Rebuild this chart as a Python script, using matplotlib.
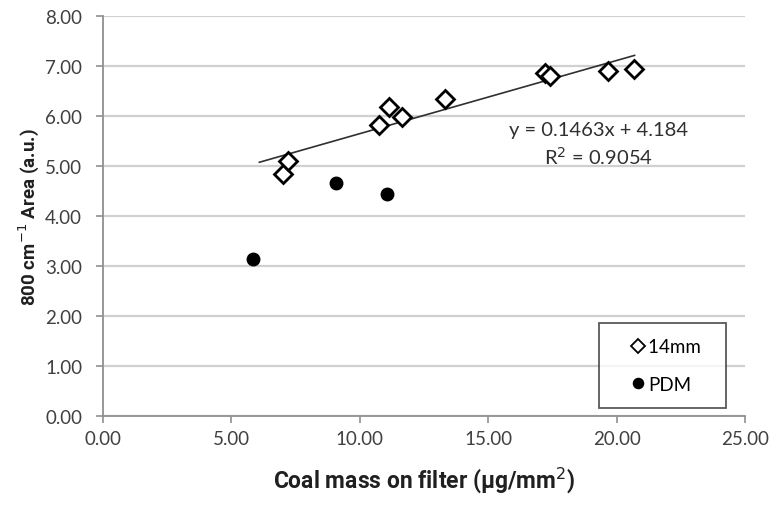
import numpy as np
import matplotlib.pyplot as plt

# datos
masa_14mm = [7.02, 7.19, 10.76, 11.12, 11.66, 13.32, 17.21, 17.41, 19.68, 20.68]
area_14mm = [4.84, 5.09, 5.82, 6.17, 5.97, 6.35, 6.87, 6.81, 6.91, 6.94]
masa_pdm = [5.85, 9.07, 11.07]
area_pdm = [3.14, 4.66, 4.44]
pendiente = 0.1463
intercepto = 4.184
r2 = 0.9054
rango_tendencia = [6.09, 20.7]
xticks = [0, 5, 10, 15, 20, 25]
yticks = [0, 1, 2, 3, 4, 5, 6, 7, 8]

plt.rcParams['font.family'] = ['Lato', 'DejaVu Sans']

fig = plt.figure(figsize=(7.78, 5.06), dpi=100)
ax = fig.add_axes([0.1324, 0.1759, 0.8252, 0.7905])

ax.set_xlim(0, 25)
ax.set_ylim(0, 8)
ax.set_xticks(xticks)
ax.set_yticks(yticks)
ax.set_xticklabels(['%.2f' % v for v in xticks], fontsize=13.5, color='#404040')
ax.set_yticklabels(['%.2f' % v for v in yticks], fontsize=13.5, color='#404040')
ax.grid(axis='y', color='#d0d0d0', linewidth=1.6)
ax.set_axisbelow(True)
for s in ['top', 'right']:
    ax.spines[s].set_visible(False)
for s in ['left', 'bottom']:
    ax.spines[s].set_color('#909090')
    ax.spines[s].set_linewidth(1.3)
ax.tick_params(direction='out', length=5, color='#909090', width=1.2)
ax.tick_params(axis='x', pad=5)
ax.tick_params(axis='y', pad=10)

xt = np.array(rango_tendencia)
ax.plot(xt, pendiente * xt + intercepto, color='#303030', linewidth=1.2, zorder=2)

ax.plot(masa_14mm, area_14mm, linestyle='none', marker='D', markersize=9,
        markerfacecolor='white', markeredgecolor='black', markeredgewidth=2,
        label='14mm  ', zorder=3)
ax.plot(masa_pdm, area_pdm, linestyle='none', marker='o', markersize=9,
        color='black', label='PDM', zorder=3)

ax.text(19.3, 5.72, 'y = %.4fx + %.3f' % (pendiente, intercepto), fontsize=14.5,
        ha='center', va='center', color='#303030')
ax.text(19.3, 5.2, 'R$^2$ = %.4f' % r2, fontsize=14.5,
        ha='center', va='center', color='#303030')

leg = ax.legend(loc='lower right', bbox_to_anchor=(0.97, 0.02), fontsize=13.5,
                frameon=True, fancybox=False, edgecolor='#303030',
                handlelength=2.6, handletextpad=-0.75, borderpad=0.8,
                labelspacing=1.1, borderaxespad=0)
leg.get_frame().set_linewidth(1.3)
for h in leg.legend_handles:
    h.set_markersize(7)
    h.set_markeredgewidth(1.3)

ax.set_xlabel('Coal mass on filter (µg/mm$^2$)', fontsize=16.5, fontweight='bold',
              family=['Roboto', 'DejaVu Sans'], color='#202020', labelpad=12)
ax.set_ylabel('800 cm$^{-1}$ Area (a.u.)', fontsize=13.5, fontweight='bold',
              family=['Roboto', 'DejaVu Sans'], color='#202020', labelpad=3)

fig.savefig('out.png', dpi=100)
